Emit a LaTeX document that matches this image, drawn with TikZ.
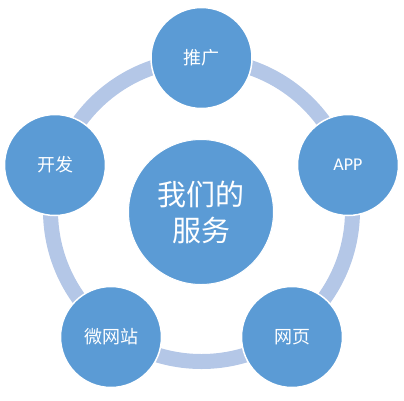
\documentclass[tikz,border=0pt]{standalone}
\usepackage{fontspec}
\setmainfont{Carlito}
\newfontfamily\cjk{Noto Sans CJK SC}
\definecolor{circfill}{HTML}{5B9BD5}
\definecolor{ringcol}{HTML}{B4C7E7}
\begin{document}
\begin{tikzpicture}[x=1pt,y=-1pt,
  sat/.style={circle, fill=circfill, draw=white, line width=1.5pt, minimum size=101pt, inner sep=0pt, text=white, font=\fontsize{18}{21}\selectfont\cjk},
  hub/.style={circle, fill=circfill, draw=white, line width=1pt, minimum size=145pt, inner sep=0pt, text=white, align=center, font=\fontsize{29}{36}\selectfont\cjk},
  ringstyle/.style={draw=ringcol, line width=15pt}]
\useasboundingbox (0,0) rectangle (404,400);
\coordinate (o) at (201.5,210.5);
\draw[ringstyle] (o) circle[radius=151pt];
\node[hub] (c) at (201,212) {我们的\\服务};
\node[sat] (s1) at (201.5,58) {推广};
\node[sat, font=\fontsize{18}{21}\selectfont] (s2) at (348,165) {APP};
\node[sat] (s3) at (292,337) {网页};
\node[sat] (s4) at (111,337) {微网站};
\node[sat] (s5) at (55,165) {开发};
\end{tikzpicture}
\end{document}
